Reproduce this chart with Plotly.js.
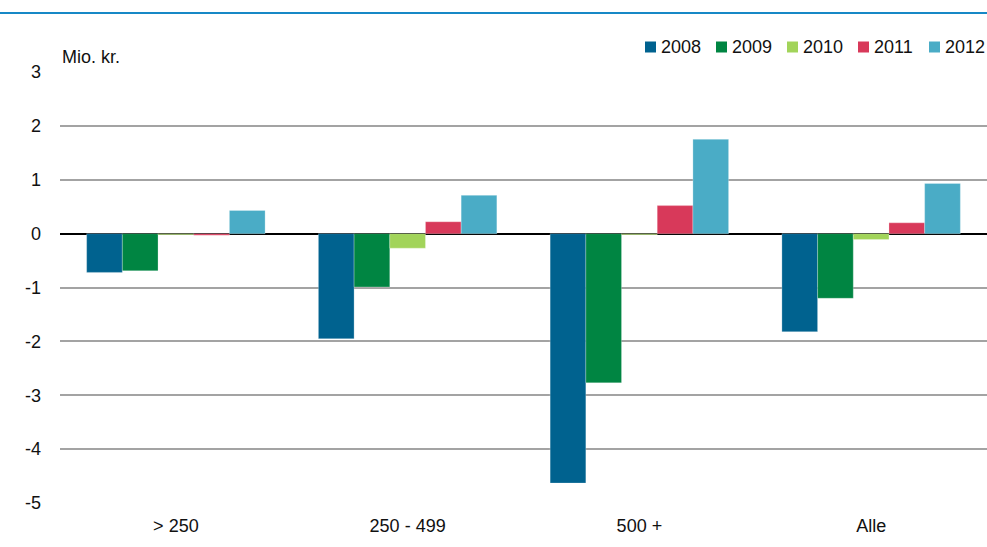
<!DOCTYPE html>
<html>
<head>
<meta charset="utf-8">
<script src="https://cdn.plot.ly/plotly-3.0.1.min.js"></script>
<style>html,body{margin:0;padding:0;background:#fff;}#chart{width:987px;height:547px;}</style>
</head>
<body>
<div id="chart"></div>
<script>
const categories = ["> 250", "250 - 499", "500 +", "Alle"];
const years = ["2008", "2009", "2010", "2011", "2012"];
const v2008 = [-0.72, -1.95, -4.63, -1.82];
const v2009 = [-0.69, -0.99, -2.77, -1.20];
const v2010 = [-0.02, -0.27, -0.02, -0.11];
const v2011 = [-0.03, 0.22, 0.52, 0.20];
const v2012 = [0.43, 0.71, 1.75, 0.93];
const colors = ["#00628f", "#008542", "#a2d45a", "#d8395a", "#4aacc6"];
const yTicks = [3, 2, 1, 0, -1, -2, -3, -4, -5];
const yUnit = "Mio. kr.";

const series = [v2008, v2009, v2010, v2011, v2012];
const FONT = "'Liberation Sans', Arial, sans-serif";

// plot area geometry (pixels)
const W = 987, H = 547, ML = 60, MR = 0, MT = 72, MB = 44;
const PW = W - ML - MR, PH = H - MT - MB;
const px = x => (x - ML) / PW;
const py = y => (H - MB - y) / PH;

const data = series.map((vals, i) => ({
  type: "bar",
  name: years[i],
  x: categories,
  y: vals,
  showlegend: false,
  marker: {color: colors[i], line: {color: "rgba(255,255,255,0.5)", width: 0.5}},
  hoverinfo: "x+y+name"
}));

// legend built from years/colors
const legStart = 645, legStep = 71, legY = 47, sq = 11;
const legendShapes = years.map((y, i) => ({
  type: "rect", xref: "paper", yref: "paper",
  x0: px(legStart + i * legStep), x1: px(legStart + i * legStep + sq),
  y0: py(legY + sq / 2), y1: py(legY - sq / 2),
  fillcolor: colors[i], line: {width: 0}
}));
const legendTexts = years.map((y, i) => ({
  text: y, xref: "paper", yref: "paper",
  x: px(legStart + i * legStep + sq + 3), y: py(legY),
  xanchor: "left", yanchor: "middle", showarrow: false,
  font: {family: FONT, size: 18, color: "#111"}
}));

const layout = {
  width: W, height: H,
  margin: {l: ML, r: MR, t: MT, b: MB},
  paper_bgcolor: "#fff", plot_bgcolor: "#fff",
  font: {family: FONT, size: 18, color: "#111"},
  barmode: "group",
  bargap: 0.23, bargroupgap: 0,
  showlegend: false,
  xaxis: {type: "category", showgrid: false, zeroline: false, showline: false,
          ticks: "", ticklabelstandoff: 10, tickfont: {family: FONT, size: 18, color: "#111"}},
  yaxis: {range: [-5, 3], tickvals: yTicks, ticktext: yTicks.map(String),
          showgrid: true, gridcolor: "#a3a3a3", gridwidth: 2,
          zeroline: true, zerolinecolor: "#000", zerolinewidth: 2,
          showline: false, ticks: "", ticklabelstandoff: 18,
          tickfont: {family: FONT, size: 18, color: "#111"}},
  shapes: [{type: "line", xref: "paper", yref: "paper",
            x0: px(0), x1: 1, y0: py(13), y1: py(13),
            line: {color: "#1688c6", width: 2}}].concat(legendShapes),
  annotations: [{text: yUnit, xref: "paper", yref: "paper", x: 0, y: py(57),
                 xanchor: "left", yanchor: "middle", showarrow: false,
                 font: {family: FONT, size: 18, color: "#111"}}].concat(legendTexts)
};

Plotly.newPlot("chart", data, layout, {displayModeBar: false, responsive: false});
</script>
</body>
</html>
